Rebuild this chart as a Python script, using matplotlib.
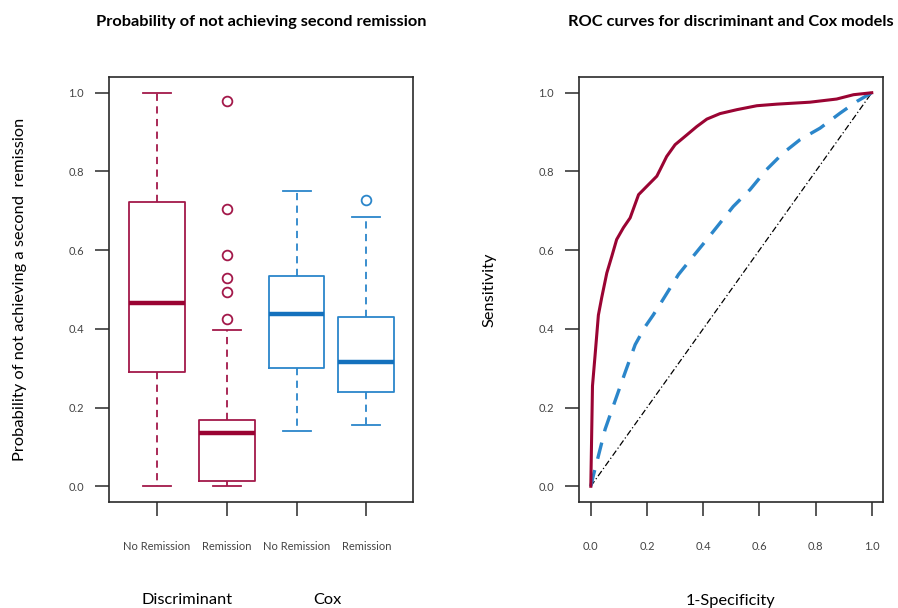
import matplotlib
matplotlib.use("Agg")
import matplotlib.pyplot as plt

plt.rcParams["font.family"] = ["Lato", "DejaVu Sans"]

# Box plot summaries
groups = ["No Remission", "Remission", "No Remission", "Remission"]
models = ["Discriminant", "Cox"]
whislo = [0.0, 0.0, 0.140, 0.155]
q1 = [0.290, 0.013, 0.300, 0.240]
med = [0.466, 0.135, 0.439, 0.316]
q3 = [0.722, 0.168, 0.534, 0.431]
whishi = [1.0, 0.398, 0.750, 0.683]
fliers = [[], [0.424, 0.493, 0.528, 0.588, 0.705, 0.980], [], [0.727]]

# ROC curves
disc_fpr = [0.0, 0.006, 0.015, 0.027, 0.039, 0.057, 0.075, 0.092, 0.116, 0.140,
            0.170, 0.199, 0.235, 0.247, 0.270, 0.300, 0.342, 0.377, 0.413, 0.460,
            0.520, 0.591, 0.662, 0.780, 0.875, 0.935, 1.0]
disc_tpr = [0.0, 0.255, 0.331, 0.435, 0.480, 0.542, 0.585, 0.627, 0.657, 0.682,
            0.741, 0.762, 0.788, 0.805, 0.838, 0.868, 0.893, 0.914, 0.933, 0.947,
            0.957, 0.967, 0.971, 0.976, 0.984, 0.995, 1.0]
cox_fpr = [0.0, 0.010, 0.027, 0.051, 0.080, 0.122, 0.158, 0.193, 0.222, 0.253,
           0.312, 0.365, 0.413, 0.460, 0.507, 0.567, 0.626, 0.685, 0.745, 0.816,
           0.887, 0.947, 1.0]
cox_tpr = [0.0, 0.030, 0.077, 0.145, 0.204, 0.289, 0.360, 0.405, 0.435, 0.470,
           0.538, 0.585, 0.627, 0.669, 0.711, 0.754, 0.805, 0.847, 0.881, 0.910,
           0.948, 0.978, 1.0]

red = "#A3194A"
red_med = "#9A0433"
blue = "#2B86CA"
blue_med = "#1471BD"
tick_col = "#444444"

fig = plt.figure(figsize=(8.98, 6.08), dpi=100)
W, H = 898, 608
ax1 = fig.add_axes([109 / W, 106 / H, 304 / W, 425 / H])
ax2 = fig.add_axes([579 / W, 106 / H, 304 / W, 425 / H])

for ax in (ax1, ax2):
    for s in ax.spines.values():
        s.set_linewidth(1.2)
        s.set_color("#2a2a2a")
    ax.tick_params(axis="both", length=10, width=1.1, color="#2a2a2a",
                   labelsize=8, labelcolor=tick_col)
    ax.tick_params(axis="y", pad=8)
    ax.tick_params(axis="x", pad=18)

# left panel: box plots
stats = []
for i in range(4):
    stats.append(dict(whislo=whislo[i], q1=q1[i], med=med[i], q3=q3[i],
                      whishi=whishi[i], fliers=fliers[i]))
positions = [1, 2, 3, 4]
for i in range(4):
    c = red if i < 2 else blue
    cm = red_med if i < 2 else blue_med
    ax1.bxp([stats[i]], positions=[positions[i]], widths=0.8, capwidths=0.4,
            boxprops=dict(color=c, linewidth=1.3),
            whiskerprops=dict(color=c, linewidth=1.3, linestyle=(0, (4, 3))),
            capprops=dict(color=c, linewidth=1.3),
            medianprops=dict(color=cm, linewidth=3.2, solid_capstyle="butt"),
            flierprops=dict(marker="o", markersize=7, markerfacecolor="none",
                            markeredgecolor=c, markeredgewidth=1.3))
ax1.set_xlim(0.31, 4.67)
ax1.set_ylim(-0.04, 1.04)
ax1.set_xticks(positions)
ax1.set_xticklabels(groups)
ax1.set_yticks([0.0, 0.2, 0.4, 0.6, 0.8, 1.0])
ax1.set_yticklabels(["0.0", "0.2", "0.4", "0.6", "0.8", "1.0"])
ax1.set_ylabel("Probability of not achieving a second  remission", fontsize=11.8,
               labelpad=30)
ax1.set_title("Probability of not achieving second remission", fontsize=11.8,
              fontweight="bold", pad=37)
fig.text(187 / W, 1 - 600 / H, models[0], fontsize=11.8, ha="center", va="center")
fig.text(327 / W, 1 - 600 / H, models[1], fontsize=11.8, ha="center", va="center")

# right panel: ROC curves
ax2.plot([0, 1], [0, 1], color="black", linewidth=0.9, linestyle=(0, (5, 2, 1, 2)))
ax2.plot(cox_fpr, cox_tpr, color=blue, linewidth=2.4, linestyle=(0, (5, 3.5)))
ax2.plot(disc_fpr, disc_tpr, color=red_med, linewidth=2.2)
ax2.set_xlim(-0.042, 1.04)
ax2.set_ylim(-0.04, 1.04)
ax2.set_xticks([0.0, 0.2, 0.4, 0.6, 0.8, 1.0])
ax2.set_xticklabels(["0.0", "0.2", "0.4", "0.6", "0.8", "1.0"])
ax2.set_yticks([0.0, 0.2, 0.4, 0.6, 0.8, 1.0])
ax2.set_yticklabels(["0.0", "0.2", "0.4", "0.6", "0.8", "1.0"])
ax2.set_ylabel("Sensitivity", fontsize=11.8, labelpad=30)
ax2.set_xlabel("1-Specificity", fontsize=11.8, labelpad=30)
ax2.set_title("ROC curves for discriminant and Cox models", fontsize=11.8,
              fontweight="bold", pad=37)

fig.savefig("out.png", dpi=100)
